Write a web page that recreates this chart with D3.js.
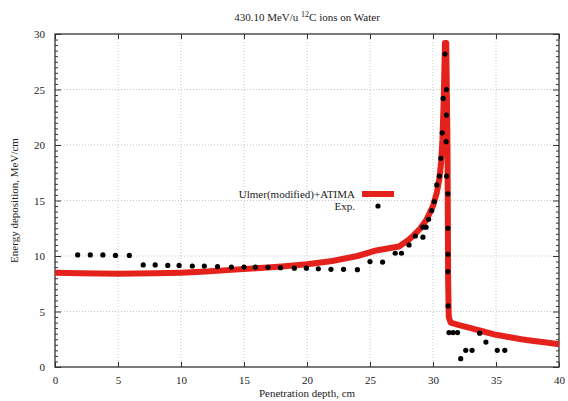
<!DOCTYPE html>
<html>
<head>
<meta charset="utf-8">
<script src="https://cdn.jsdelivr.net/npm/d3@7"></script>
<style>
  body { margin: 0; background: #fff; }
  svg { display: block; font-family: "Liberation Serif", "DejaVu Serif", serif; }
</style>
</head>
<body>
<div id="grafico"></div>
<script>
// Curva do modelo (Ulmer modificado + ATIMA)
const profModelo = [0, 2, 5, 8, 10, 12, 14, 16, 18, 20, 22, 24, 25.5, 26.5, 27.3, 28.0, 28.5, 29.0, 29.5, 30.0, 30.3, 30.5, 30.65, 30.75, 30.85, 30.95, 31.05, 31.15, 31.2, 31.25, 31.4, 32, 33, 34, 35, 36, 37, 38, 39, 40];
const doseModelo = [8.5, 8.45, 8.4, 8.45, 8.5, 8.6, 8.75, 8.9, 9.05, 9.25, 9.55, 10.0, 10.5, 10.7, 10.85, 11.4, 11.9, 12.5, 13.3, 14.5, 15.7, 16.9, 18.5, 20.5, 24, 29.2, 29.2, 20, 8, 4.5, 4.0, 3.8, 3.5, 3.2, 2.9, 2.7, 2.5, 2.35, 2.2, 2.05];

// Pontos experimentais
const profExp = [1.8, 2.8, 3.8, 4.8, 5.9, 7.0, 7.95, 8.95, 9.85, 10.9, 11.85, 12.9, 14.0, 15.0, 15.9, 16.9, 17.9, 19.0, 19.95, 20.9, 21.9, 22.9, 24.0, 25.0, 26.0, 27.0, 27.5, 28.1, 28.6, 29.2, 29.2, 29.45, 29.65, 29.9, 30.1, 30.3, 30.5, 30.62, 30.73, 30.8, 30.95, 31.07, 31.07, 31.04, 31.08, 31.18, 31.18, 31.18, 31.18, 31.2, 31.27, 31.6, 31.95, 32.2, 32.6, 33.1, 33.7, 34.2, 35.1, 35.7];
const doseExp = [10.1, 10.1, 10.1, 10.05, 10.05, 9.2, 9.2, 9.15, 9.15, 9.1, 9.1, 9.05, 9.0, 9.0, 9.0, 8.98, 8.95, 8.9, 8.9, 8.85, 8.8, 8.8, 8.77, 9.5, 9.45, 10.25, 10.25, 11.0, 11.8, 11.7, 12.6, 12.6, 13.3, 14.1, 14.9, 16.4, 17.2, 18.8, 21.1, 24.2, 28.2, 25.0, 22.7, 20.3, 17.2, 15.6, 12.5, 10.15, 8.6, 5.5, 3.1, 3.1, 3.1, 0.75, 1.5, 1.5, 3.05, 2.25, 1.5, 1.5];

const ticksX = [0, 5, 10, 15, 20, 25, 30, 35, 40];
const ticksY = [0, 5, 10, 15, 20, 25, 30];

const width = 568, height = 401;
const margin = { top: 34, right: 9, bottom: 34, left: 55 };

const svg = d3.select("#grafico")
  .append("svg")
  .attr("width", width)
  .attr("height", height);

const x = d3.scaleLinear().domain([0, 40]).range([margin.left, width - margin.right]);
const y = d3.scaleLinear().domain([0, 30]).range([height - margin.bottom, margin.top]);

// grade pontilhada
svg.append("g")
  .selectAll("line")
  .data(ticksX.slice(1, -1))
  .join("line")
  .attr("x1", d => x(d)).attr("x2", d => x(d))
  .attr("y1", y(0)).attr("y2", y(30))
  .attr("stroke", "#b8b8b8").attr("stroke-width", 0.8)
  .attr("stroke-dasharray", "1,2");

svg.append("g")
  .selectAll("line")
  .data(ticksY.slice(1, -1))
  .join("line")
  .attr("x1", x(0)).attr("x2", x(40))
  .attr("y1", d => y(d)).attr("y2", d => y(d))
  .attr("stroke", "#b8b8b8").attr("stroke-width", 0.8)
  .attr("stroke-dasharray", "1,2");

// eixos (estilo gnuplot, ticks para dentro)
const eixoX = svg.append("g")
  .attr("transform", `translate(0,${y(0)})`)
  .call(d3.axisBottom(x).tickValues(ticksX).tickSize(-5).tickPadding(9));
const eixoXTopo = svg.append("g")
  .attr("transform", `translate(0,${y(30)})`)
  .call(d3.axisTop(x).tickValues(ticksX).tickSize(-5).tickFormat(""));

const minY = d3.range(0, 30.01, 0.5).filter(v => v % 5 !== 0);
svg.append("g")
  .attr("transform", `translate(${x(0)},0)`)
  .call(d3.axisLeft(y).tickValues(minY).tickSize(-3).tickFormat(""));
svg.append("g")
  .attr("transform", `translate(${x(40)},0)`)
  .call(d3.axisRight(y).tickValues(minY).tickSize(-3).tickFormat(""));

const eixoY = svg.append("g")
  .attr("transform", `translate(${x(0)},0)`)
  .call(d3.axisLeft(y).tickValues(ticksY).tickSize(-6).tickPadding(10));
svg.append("g")
  .attr("transform", `translate(${x(40)},0)`)
  .call(d3.axisRight(y).tickValues(ticksY).tickSize(-6).tickFormat(""));

svg.selectAll(".domain").remove();
svg.selectAll(".tick line").attr("stroke", "#333");
svg.selectAll(".tick text")
  .attr("font-family", "Liberation Serif, serif")
  .attr("font-size", 11)
  .attr("fill", "#222");

// moldura
svg.append("rect")
  .attr("x", x(0)).attr("y", y(30))
  .attr("width", x(40) - x(0)).attr("height", y(0) - y(30))
  .attr("fill", "none").attr("stroke", "#333").attr("stroke-width", 1.3);

// curva do modelo
const dadosModelo = profModelo.map((p, i) => ({ p, d: doseModelo[i] }));
const linha = d3.line().x(d => x(d.p)).y(d => y(d.d));

svg.append("path")
  .datum(dadosModelo)
  .attr("fill", "none")
  .attr("stroke", "#e4221b")
  .attr("stroke-width", 6)
  .attr("stroke-linejoin", "round")
  .attr("d", linha);

// pontos experimentais
svg.append("g")
  .selectAll("circle")
  .data(profExp.map((p, i) => ({ p, d: doseExp[i] })))
  .join("circle")
  .attr("cx", d => x(d.p))
  .attr("cy", d => y(d.d))
  .attr("r", 2.6)
  .attr("fill", "#000");

// legenda
const leg = svg.append("g").attr("font-size", 11).attr("fill", "#222");
leg.append("text").attr("x", 355).attr("y", 198).attr("text-anchor", "end").text("Ulmer(modified)+ATIMA");
leg.append("line").attr("x1", 362).attr("x2", 394).attr("y1", 194).attr("y2", 194)
  .attr("stroke", "#e4221b").attr("stroke-width", 6);
leg.append("text").attr("x", 355).attr("y", 210).attr("text-anchor", "end").text("Exp.");
leg.append("circle").attr("cx", 378).attr("cy", 206).attr("r", 2.6).attr("fill", "#000");

// títulos
const titulo = svg.append("text")
  .attr("x", (x(0) + x(40)) / 2).attr("y", 21)
  .attr("text-anchor", "middle").attr("font-size", 11).attr("fill", "#222");
titulo.append("tspan").text("430.10 MeV/u ");
titulo.append("tspan").attr("font-size", 8).attr("dy", -4).text("12");
titulo.append("tspan").attr("dy", 4).text("C ions on Water");

svg.append("text")
  .attr("x", (x(0) + x(40)) / 2).attr("y", 397)
  .attr("text-anchor", "middle").attr("font-size", 11).attr("fill", "#222")
  .text("Penetration depth, cm");

svg.append("text")
  .attr("transform", `translate(18,${(y(0) + y(30)) / 2}) rotate(-90)`)
  .attr("text-anchor", "middle").attr("font-size", 11).attr("fill", "#222")
  .text("Energy deposition, MeV/cm");
</script>
</body>
</html>
